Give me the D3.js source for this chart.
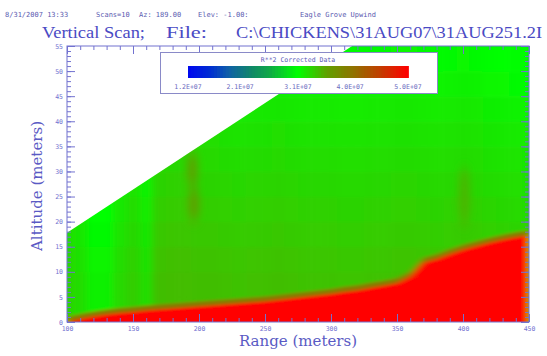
<!DOCTYPE html>
<html>
<head>
<meta charset="utf-8">
<script src="https://cdn.jsdelivr.net/npm/d3@7"></script>
<style>
  html, body { margin: 0; padding: 0; background: #fff; }
</style>
</head>
<body>
<div id="container"></div>
<script>
const width = 547;
const height = 356;

// range columns (m) and the altitude (m) of the top of the red near-ground layer
const ranges = [100, 110, 120, 130, 140, 150, 160, 170, 180, 190, 200, 210, 220, 230, 240, 250, 260, 270,
    280, 290, 300, 310, 320, 330, 340, 350, 360, 370, 380, 390, 400, 410, 420, 430, 440, 450];
const groundTop = [0, 0.6, 1.1, 1.5, 1.8, 2.0, 2.3, 2.5, 2.7, 2.9, 3.1, 3.3, 3.5, 3.7, 3.9, 4.1, 4.4, 4.7,
    5.0, 5.3, 5.6, 6.0, 6.3, 6.8, 7.2, 7.7, 9.0, 11.8, 12.5, 13.5, 14.4, 15.1, 15.8, 16.4, 16.9, 17.3];
// per column offset of the backscatter (x1e7)
const columnOffset = [-0.1, -0.14, -0.24, -0.24, -0.12, -0.06, -0.14, 0.02, 0.03, 0.03, 0.02, 0.02, 0.01, 0, 0.01, 0.01, 0.02, 0.01,
    0, 0, 0, -0.01, -0.01, 0, 0, 0.01, 0.01, 0, -0.01, 0, 0.01, 0, -0.02, -0.03, -0.04, -0.05];
// altitude bands (lower edge, m) and their backscatter (x1e7)
const altBands = [0, 5, 10, 15, 20, 25, 30, 35, 40, 45, 50];
const bandValue = [3.42, 3.42, 3.4, 3.37, 3.34, 3.31, 3.28, 3.25, 3.21, 3.17, 3.13];
// olive streaks in the scan
const streaks = [
    {range: 196, alt0: 20, alt1: 27, value: 3.64},
    {range: 195, alt0: 27, alt1: 34, value: 3.62},
    {range: 401, alt0: 19, alt1: 31, value: 3.5}
];
// upper edge of the scan (beam elevation)
const scanEdge = [{range: 100, alt: 17.8}, {range: 316, alt: 55}];
const layerValue = 5.0;
const transitionValue = 4.0;

const colorStops = [1.2, 1.6, 1.9, 2.3, 2.6, 3.1, 3.6, 4.0, 4.5, 5.0];
const colorRange = ["#0008f0", "#0030d0", "#1060a8", "#108868", "#10a848", "#00ff00", "#60a000", "#8a7800", "#c04000", "#ff0000"];
const legendTicks = [1.2, 2.1, 3.1, 4.0, 5.0];
const legendLabels = ["1.2E+07", "2.1E+07", "3.1E+07", "4.0E+07", "5.0E+07"];

const axisColor = "#7272d0";

const x = d3.scaleLinear().domain([100, 450]).range([67, 529]);
const y = d3.scaleLinear().domain([0, 55]).range([322, 46]);
const color = d3.scaleLinear().domain(colorStops).range(colorRange).clamp(true);

const svg = d3.create('svg')
    .attr('width', width)
    .attr('height', height)
    .style('display', 'block')
    .style('background', '#fff');

const defs = svg.append('defs');

// clip: the plot box minus the region above the beam
const clipPoints = [
    [x(100), y(0)],
    [x(scanEdge[0].range), y(scanEdge[0].alt)],
    [x(scanEdge[1].range), y(scanEdge[1].alt)],
    [x(450), y(55)],
    [x(450), y(0)]
];
defs.append('clipPath').attr('id', 'scan-clip')
    .append('polygon')
    .attr('points', clipPoints.map(p => p.join(',')).join(' '));

defs.append('filter').attr('id', 'smooth')
    .attr('filterUnits', 'userSpaceOnUse')
    .attr('x', 0).attr('y', 0).attr('width', width).attr('height', height)
    .append('feGaussianBlur').attr('stdDeviation', '3.5 1.5');

defs.append('filter').attr('id', 'smooth-wide')
    .attr('filterUnits', 'userSpaceOnUse')
    .attr('x', 0).attr('y', 0).attr('width', width).attr('height', height)
    .append('feGaussianBlur').attr('stdDeviation', '4 6');

const field = svg.append('g').attr('clip-path', 'url(#scan-clip)');
const smooth = field.append('g').attr('filter', 'url(#smooth)');

const cells = [];
ranges.forEach((r, i) => {
    altBands.forEach((a, j) => {
        cells.push({range: r, alt: a, value: bandValue[j] + columnOffset[i]});
    });
});

smooth.selectAll('rect.cell')
    .data(cells)
    .enter()
    .append('rect')
    .attr('class', 'cell')
    .attr('x', d => x(d.range - 5))
    .attr('y', d => y(d.alt === 50 ? 60 : d.alt + 5))
    .attr('width', x(110) - x(100) + 0.5)
    .attr('height', d => y(d.alt) - y(d.alt === 50 ? 60 : d.alt + 5) + 0.5)
    .attr('fill', d => color(d.value));

const ground = ranges.map((r, i) => ({range: r, top: groundTop[i]}));

smooth.append('path')
    .datum(ground)
    .attr('d', d3.area()
        .x(d => x(d.range))
        .y0(y(-3))
        .y1(d => y(d.top + 1.0)))
    .attr('fill', color(transitionValue));

smooth.append('path')
    .datum(ground)
    .attr('d', d3.area()
        .x(d => x(d.range))
        .y0(y(-3))
        .y1(d => y(d.top)))
    .attr('fill', color(layerValue));

field.append('g').attr('filter', 'url(#smooth-wide)')
    .selectAll('ellipse')
    .data(streaks)
    .enter()
    .append('ellipse')
    .attr('cx', d => x(d.range))
    .attr('cy', d => y((d.alt0 + d.alt1) / 2))
    .attr('rx', 5)
    .attr('ry', d => (y(d.alt0) - y(d.alt1)) / 2)
    .attr('fill', d => color(d.value));

// axes, ticks pointing inward
const axes = svg.append('g').attr('class', 'axes');

const styleAxis = g => {
    g.selectAll('path.domain').remove();
    g.selectAll('line').attr('stroke', axisColor).attr('stroke-width', 1);
    g.selectAll('text')
        .attr('fill', axisColor)
        .attr('font-family', 'DejaVu Sans Mono, monospace')
        .attr('font-size', '6.5px');
};

axes.append('g')
    .attr('transform', `translate(${x(100)},0)`)
    .call(d3.axisLeft(y).tickValues(d3.range(0, 56, 1)).tickSizeInner(-4).tickSizeOuter(0).tickFormat(''))
    .call(styleAxis);
axes.append('g')
    .attr('transform', `translate(${x(100)},0)`)
    .call(d3.axisLeft(y).tickValues(d3.range(0, 56, 5)).tickSizeInner(-8).tickSizeOuter(0).tickPadding(4))
    .call(styleAxis);
axes.append('g')
    .attr('transform', `translate(${x(450)},0)`)
    .call(d3.axisRight(y).tickValues(d3.range(0, 56, 1)).tickSizeInner(-4).tickSizeOuter(0).tickFormat(''))
    .call(styleAxis);
axes.append('g')
    .attr('transform', `translate(${x(450)},0)`)
    .call(d3.axisRight(y).tickValues(d3.range(0, 56, 5)).tickSizeInner(-8).tickSizeOuter(0).tickFormat(''))
    .call(styleAxis);
axes.append('g')
    .attr('transform', `translate(0,${y(55)})`)
    .call(d3.axisTop(x).tickValues(d3.range(100, 451, 10)).tickSizeInner(-4).tickSizeOuter(0).tickFormat(''))
    .call(styleAxis);
axes.append('g')
    .attr('transform', `translate(0,${y(55)})`)
    .call(d3.axisTop(x).tickValues(d3.range(100, 451, 50)).tickSizeInner(-8).tickSizeOuter(0).tickFormat(''))
    .call(styleAxis);
axes.append('g')
    .attr('transform', `translate(0,${y(0)})`)
    .call(d3.axisBottom(x).tickValues(d3.range(100, 451, 10)).tickSizeInner(-4).tickSizeOuter(0).tickFormat(''))
    .call(styleAxis);
axes.append('g')
    .attr('transform', `translate(0,${y(0)})`)
    .call(d3.axisBottom(x).tickValues(d3.range(100, 451, 50)).tickSizeInner(-8).tickSizeOuter(0).tickPadding(4))
    .call(styleAxis);

axes.append('rect')
    .attr('x', x(100)).attr('y', y(55))
    .attr('width', x(450) - x(100)).attr('height', y(0) - y(55))
    .attr('fill', 'none')
    .attr('stroke', axisColor)
    .attr('stroke-width', 1);

// legend
const legend = svg.append('g').attr('class', 'legend');
legend.append('rect')
    .attr('x', 160.5).attr('y', 52.5)
    .attr('width', 277).attr('height', 41)
    .attr('fill', '#fff')
    .attr('stroke', '#8a8ac8')
    .attr('stroke-width', 1);

legend.append('text')
    .attr('x', 298).attr('y', 62)
    .attr('text-anchor', 'middle')
    .attr('font-family', 'DejaVu Sans Mono, monospace')
    .attr('font-size', '6.5px')
    .attr('fill', '#5a5ab8')
    .text('R**2 Corrected Data');

const bar = d3.scaleLinear().domain([1.2, 5.0]).range([188, 408]);
const barSteps = d3.range(1.2, 5.0, 0.05);
legend.selectAll('rect.step')
    .data(barSteps)
    .enter()
    .append('rect')
    .attr('class', 'step')
    .attr('x', d => bar(d))
    .attr('y', 66)
    .attr('width', bar(0.06) - bar(0) + 0.3)
    .attr('height', 12)
    .attr('fill', d => color(d + 0.025));

legend.selectAll('text.tick')
    .data(legendTicks)
    .enter()
    .append('text')
    .attr('class', 'tick')
    .attr('x', d => bar(d))
    .attr('y', 89)
    .attr('text-anchor', 'middle')
    .attr('font-family', 'DejaVu Sans Mono, monospace')
    .attr('font-size', '6.5px')
    .attr('fill', '#6a6ac0')
    .text((d, i) => legendLabels[i]);

// header and titles
const header = [
    {x: 5, text: '8/31/2007 13:33'},
    {x: 96, text: 'Scans=10'},
    {x: 139, text: 'Az: 189.00'},
    {x: 198, text: 'Elev: -1.00:'},
    {x: 300, text: 'Eagle Grove Upwind'}
];
svg.selectAll('text.header')
    .data(header)
    .enter()
    .append('text')
    .attr('class', 'header')
    .attr('x', d => d.x)
    .attr('y', 17)
    .attr('font-family', 'DejaVu Sans Mono, monospace')
    .attr('font-size', '7px')
    .attr('fill', '#5a5ab0')
    .text(d => d.text);

const titleParts = [
    {x: 42, w: 103, text: 'Vertical Scan;'},
    {x: 166, w: 41, text: 'File:'},
    {x: 236, w: 306, text: 'C:\\CHICKENS\\31AUG07\\31AUG251.2I'}
];
svg.selectAll('text.title')
    .data(titleParts)
    .enter()
    .append('text')
    .attr('class', 'title')
    .attr('x', d => d.x)
    .attr('y', 38)
    .attr('textLength', d => d.w)
    .attr('lengthAdjust', 'spacingAndGlyphs')
    .attr('font-family', 'Liberation Serif, serif')
    .attr('font-size', '17px')
    .attr('fill', '#4a4ac4')
    .text(d => d.text);

svg.append('text')
    .attr('x', 298).attr('y', 346)
    .attr('text-anchor', 'middle')
    .attr('font-family', 'DejaVu Serif, serif')
    .attr('font-size', '15px')
    .attr('fill', '#5a5ac4')
    .text('Range (meters)');

svg.append('text')
    .attr('transform', 'translate(42,186) rotate(-90)')
    .attr('text-anchor', 'middle')
    .attr('font-family', 'DejaVu Serif, serif')
    .attr('font-size', '15px')
    .attr('fill', '#5a5ac4')
    .text('Altitude (meters)');

d3.select('#container').append(() => svg.node());
</script>
</body>
</html>
